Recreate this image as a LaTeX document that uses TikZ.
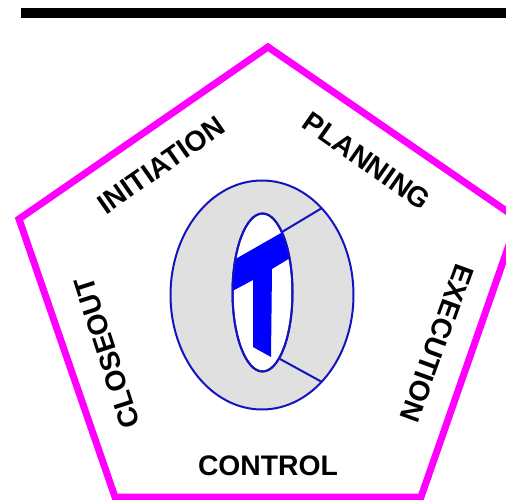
\documentclass[tikz,border=0pt]{standalone}
\usepackage{fontspec}
\setmainfont{Liberation Sans}
\definecolor{penta}{RGB}{255,0,255}
\definecolor{logoblue}{RGB}{0,0,255}
\definecolor{logoline}{RGB}{20,20,190}
\definecolor{ringgray}{RGB}{224,224,224}
\begin{document}
\begin{tikzpicture}[x=1pt,y=-1pt,
  phase/.style={font=\bfseries\fontsize{28.3}{30}\selectfont,text=black,inner sep=0pt,anchor=center},
  logoedge/.style={draw=logoline,line width=2pt},
  pentaedge/.style={draw=penta,line width=7pt,line join=miter}]
\useasboundingbox (0,0) rectangle (506,500);
\begin{scope}
\clip (0,0) rectangle (506,500);
\fill[black] (21,8) rectangle (506,18);
\draw[pentaedge] (268,47) -- (19,219) -- (115,497) -- (421,497) -- (518,219) -- cycle;
% logo
\draw[logoedge,fill=ringgray] (262,295) ellipse [x radius=91.5,y radius=114.5];
\draw[logoedge,fill=white] (262.5,292.5) ellipse [x radius=30,y radius=79];
\begin{scope}
\clip (262.5,292.5) ellipse [x radius=30,y radius=79];
\fill[logoblue] (225,265) -- (295,225) -- (295,255) -- (272,269) -- (271,357) -- (253,347) -- (253,280) -- (225,295) -- cycle;
\end{scope}
\draw[logoedge] (262.5,292.5) ellipse [x radius=30,y radius=79];
\draw[logoedge] (282,232) -- (322,208);
\draw[logoedge] (280,359) -- (322,382);
\end{scope}
\node[phase,rotate=35] (initiation) at (161,165) {INITIATION};
\node[phase,rotate=-35] (planning) at (367,161) {PLANNING};
\node[phase,rotate=-110] (execution) at (437,343) {EXECUTION};
\node[phase] (control) at (268,466) {CONTROL};
\node[phase,rotate=108] (closeout) at (107,353) {CLOSEOUT};
\end{tikzpicture}
\end{document}
